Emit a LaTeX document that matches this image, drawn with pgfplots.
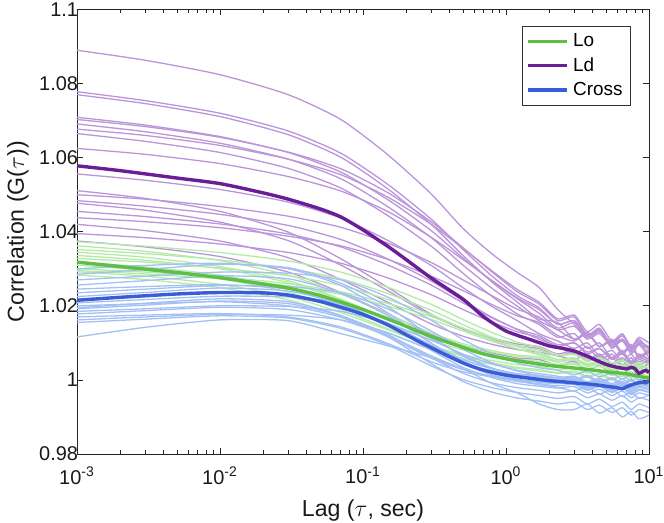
\documentclass[border=0pt]{standalone}
\usepackage{fontspec}
\setmainfont{Liberation Sans}
\usepackage{pgfplots}
\usepackage{pgfplotstable}
\pgfplotsset{compat=1.18}
\definecolor{ldthin}{RGB}{187,148,218}
\definecolor{lothin}{RGB}{180,234,168}
\definecolor{crthin}{RGB}{163,192,245}
\definecolor{ldthick}{RGB}{106,30,150}
\definecolor{lothick}{RGB}{92,192,68}
\definecolor{crthick}{RGB}{58,92,214}

\pgfplotstableread{
t p1 p2 p3 p4 p5 p6 p7 p8 p9 p10 p11 p12 p13 p14 p15 p16 p17 p18 p19
0.001 1.0890 1.0778 1.0770 1.0709 1.0703 1.0691 1.0677 1.0665 1.0625 1.0556 1.0511 1.0500 1.0484 1.0477 1.0455 1.0438 1.0420 1.0395 1.0375
0.003 1.0863 1.0754 1.0746 1.0688 1.0684 1.0670 1.0660 1.0644 1.0609 1.0539 1.0490 1.0488 1.0469 1.0458 1.0441 1.0427 1.0403 1.0384 1.0359
0.01 1.0824 1.0720 1.0711 1.0657 1.0655 1.0639 1.0633 1.0614 1.0584 1.0514 1.0455 1.0468 1.0447 1.0426 1.0421 1.0411 1.0375 1.0367 1.0333
0.03 1.0770 1.0672 1.0662 1.0614 1.0615 1.0596 1.0596 1.0571 1.0549 1.0480 1.0399 1.0442 1.0417 1.0376 1.0394 1.0388 1.0330 1.0344 1.0291
0.07 1.0703 1.0612 1.0601 1.0561 1.0570 1.0543 1.0554 1.0518 1.0510 1.0437 1.0327 1.0412 1.0379 1.0310 1.0359 1.0362 1.0271 1.0315 1.0236
0.15 1.0607 1.0527 1.0515 1.0486 1.0505 1.0467 1.0493 1.0443 1.0454 1.0376 1.0249 1.0369 1.0326 1.0240 1.0310 1.0325 1.0209 1.0275 1.0178
0.3 1.0502 1.0434 1.0420 1.0403 1.0427 1.0384 1.0420 1.0361 1.0385 1.0309 1.0177 1.0317 1.0267 1.0174 1.0256 1.0280 1.0151 1.0230 1.0123
0.5 1.0409 1.0352 1.0336 1.0329 1.0357 1.0310 1.0355 1.0288 1.0325 1.0249 1.0137 1.0270 1.0214 1.0138 1.0208 1.0241 1.0118 1.0190 1.0093
0.8 1.0340 1.0280 1.0264 1.0266 1.0291 1.0247 1.0294 1.0225 1.0268 1.0198 1.0110 1.0227 1.0169 1.0113 1.0167 1.0203 1.0096 1.0156 1.0073
1.2 1.0290 1.0227 1.0210 1.0219 1.0238 1.0199 1.0244 1.0178 1.0221 1.0160 1.0092 1.0191 1.0136 1.0097 1.0137 1.0173 1.0082 1.0130 1.0059
1.7 1.0250 1.0195 1.0165 1.0180 1.0205 1.0160 1.0210 1.0150 1.0190 1.0125 1.0085 1.0170 1.0110 1.0090 1.0120 1.0155 1.0075 1.0115 1.0055
2.3 1.0190 1.0150 1.0155 1.0140 1.0160 1.0135 1.0165 1.0115 1.0150 1.0105 1.0065 1.0135 1.0090 1.0070 1.0095 1.0120 1.0065 1.0090 1.0040
3 1.0150 1.0160 1.0110 1.0155 1.0170 1.0110 1.0175 1.0125 1.0160 1.0085 1.0075 1.0145 1.0070 1.0080 1.0100 1.0105 1.0055 1.0100 1.0050
3.7 1.0120 1.0120 1.0130 1.0115 1.0120 1.0125 1.0130 1.0085 1.0115 1.0100 1.0050 1.0110 1.0090 1.0055 1.0075 1.0125 1.0070 1.0070 1.0025
4.5 1.0135 1.0140 1.0090 1.0130 1.0135 1.0090 1.0150 1.0100 1.0135 1.0065 1.0065 1.0125 1.0055 1.0070 1.0085 1.0090 1.0045 1.0085 1.0040
5.5 1.0095 1.0095 1.0105 1.0100 1.0085 1.0105 1.0105 1.0060 1.0095 1.0080 1.0040 1.0090 1.0070 1.0045 1.0055 1.0110 1.0060 1.0060 1.0015
6.5 1.0110 1.0120 1.0070 1.0120 1.0110 1.0070 1.0125 1.0080 1.0110 1.0050 1.0055 1.0105 1.0040 1.0060 1.0070 1.0075 1.0035 1.0075 1.0035
7.5 1.0080 1.0085 1.0095 1.0090 1.0070 1.0090 1.0090 1.0045 1.0080 1.0070 1.0030 1.0075 1.0060 1.0040 1.0045 1.0095 1.0050 1.0050 1.0005
8.5 1.0100 1.0110 1.0060 1.0105 1.0095 1.0060 1.0115 1.0070 1.0100 1.0040 1.0050 1.0095 1.0030 1.0055 1.0060 1.0065 1.0030 1.0065 1.0030
10 1.0070 1.0080 1.0080 1.0085 1.0060 1.0075 1.0100 1.0055 1.0090 1.0055 1.0040 1.0085 1.0045 1.0045 1.0050 1.0080 1.0045 1.0055 1.0020
}\ldtab

\pgfplotstableread{
t g1 g2 g3 g4 g5 g6 g7 g8 g9 g10 g11 g12
0.001 1.0373 1.0362 1.0352 1.0345 1.0336 1.0328 1.0318 1.0310 1.0300 1.0292 1.0283 1.0295
0.003 1.0361 1.0347 1.0341 1.0331 1.0323 1.0318 1.0305 1.0296 1.0291 1.0280 1.0271 1.0286
0.01 1.0344 1.0322 1.0324 1.0306 1.0300 1.0302 1.0283 1.0273 1.0278 1.0258 1.0249 1.0273
0.03 1.0321 1.0283 1.0301 1.0268 1.0263 1.0281 1.0247 1.0237 1.0260 1.0225 1.0216 1.0254
0.07 1.0291 1.0232 1.0273 1.0218 1.0216 1.0255 1.0201 1.0189 1.0238 1.0182 1.0172 1.0231
0.15 1.0250 1.0177 1.0233 1.0164 1.0166 1.0217 1.0152 1.0138 1.0206 1.0135 1.0126 1.0199
0.3 1.0204 1.0127 1.0188 1.0115 1.0119 1.0176 1.0107 1.0090 1.0171 1.0092 1.0082 1.0163
0.5 1.0163 1.0098 1.0149 1.0087 1.0093 1.0139 1.0081 1.0064 1.0140 1.0068 1.0058 1.0132
0.8 1.0128 1.0079 1.0115 1.0068 1.0075 1.0108 1.0064 1.0046 1.0113 1.0052 1.0042 1.0104
1.2 1.0102 1.0067 1.0090 1.0056 1.0064 1.0084 1.0053 1.0034 1.0093 1.0041 1.0031 1.0084
1.7 1.0088 1.0062 1.0075 1.0050 1.0058 1.0068 1.0046 1.0028 1.0080 1.0036 1.0024 1.0070
2.3 1.0068 1.0048 1.0055 1.0042 1.0050 1.0050 1.0040 1.0020 1.0066 1.0028 1.0018 1.0055
3 1.0070 1.0055 1.0060 1.0046 1.0054 1.0055 1.0042 1.0024 1.0068 1.0032 1.0020 1.0058
3.7 1.0050 1.0038 1.0040 1.0030 1.0040 1.0036 1.0030 1.0010 1.0054 1.0018 1.0008 1.0044
4.5 1.0058 1.0048 1.0048 1.0038 1.0046 1.0044 1.0036 1.0018 1.0060 1.0026 1.0014 1.0050
5.5 1.0040 1.0032 1.0028 1.0024 1.0034 1.0026 1.0024 1.0004 1.0046 1.0012 1.0000 1.0034
6.5 1.0052 1.0044 1.0038 1.0034 1.0042 1.0034 1.0032 1.0014 1.0054 1.0022 1.0010 1.0042
7.5 1.0035 1.0028 1.0020 1.0018 1.0030 1.0018 1.0020 0.9998 1.0040 1.0006 0.9996 1.0028
8.5 1.0045 1.0040 1.0032 1.0030 1.0038 1.0028 1.0028 1.0010 1.0048 1.0018 1.0006 1.0036
10 1.0030 1.0030 1.0022 1.0020 1.0032 1.0016 1.0022 1.0002 1.0042 1.0010 0.9998 1.0030
}\lotab

\pgfplotstableread{
t b1 b2 b3 b4 b5 b6 b7 b8 b9 b10 b11 b12 b13 b14 b15 b16 b17 b18
0.001 1.0300 1.0285 1.0270 1.0256 1.0245 1.0235 1.0225 1.0218 1.0208 1.0200 1.0192 1.0185 1.0178 1.0170 1.0162 1.0155 1.0116 1.0195
0.003 1.0309 1.0298 1.0280 1.0268 1.0252 1.0245 1.0236 1.0228 1.0217 1.0206 1.0202 1.0192 1.0187 1.0175 1.0170 1.0164 1.0142 1.0207
0.01 1.0315 1.0312 1.0291 1.0281 1.0257 1.0255 1.0248 1.0238 1.0226 1.0211 1.0213 1.0200 1.0196 1.0179 1.0177 1.0173 1.0162 1.0219
0.03 1.0300 1.0303 1.0288 1.0273 1.0245 1.0252 1.0240 1.0231 1.0224 1.0200 1.0206 1.0198 1.0190 1.0170 1.0175 1.0167 1.0160 1.0211
0.07 1.0255 1.0261 1.0270 1.0234 1.0208 1.0235 1.0205 1.0201 1.0208 1.0169 1.0173 1.0185 1.0162 1.0143 1.0162 1.0139 1.0125 1.0174
0.15 1.0180 1.0197 1.0223 1.0173 1.0147 1.0191 1.0149 1.0153 1.0167 1.0116 1.0122 1.0152 1.0119 1.0098 1.0127 1.0094 1.0092 1.0116
0.3 1.0099 1.0117 1.0161 1.0099 1.0081 1.0132 1.0080 1.0094 1.0112 1.0059 1.0060 1.0107 1.0065 1.0049 1.0081 1.0038 1.0060 1.0044
0.5 1.0054 1.0064 1.0109 1.0049 1.0044 1.0083 1.0034 1.0055 1.0067 1.0028 1.0018 1.0070 1.0030 1.0022 1.0043 1.0001 1.0030 0.9996
0.8 1.0030 1.0031 1.0070 1.0019 1.0025 1.0046 1.0006 1.0031 1.0032 1.0011 0.9992 1.0043 1.0008 1.0008 1.0014 0.9979 0.9990 0.9967
1.2 1.0015 1.0014 1.0046 1.0002 1.0012 1.0024 0.9990 1.0017 1.0012 1.0001 0.9979 1.0026 0.9996 0.9999 0.9997 0.9966 0.9965 0.9951
1.7 1.0009 1.0005 1.0033 0.9994 1.0006 1.0012 0.9983 1.0012 1.0001 0.9996 0.9972 1.0017 0.9990 0.9994 0.9987 0.9958 0.9935 0.9943
2.3 1.0006 0.9999 1.0026 0.9990 1.0002 1.0005 0.9978 1.0006 0.9996 0.9992 0.9965 1.0010 0.9984 0.9990 0.9980 0.9950 0.9920 0.9935
3 1.0010 1.0002 1.0014 0.9992 1.0006 1.0006 0.9982 0.9998 0.9998 0.9995 0.9970 1.0002 0.9988 0.9993 0.9970 0.9955 0.9920 0.9940
3.7 0.9995 0.9985 1.0024 0.9975 0.9992 0.9990 0.9965 1.0008 0.9982 0.9980 0.9952 1.0012 0.9972 0.9978 0.9982 0.9935 0.9935 0.9920
4.5 1.0005 0.9996 1.0008 0.9986 1.0000 1.0000 0.9975 0.9992 0.9992 0.9990 0.9962 0.9996 0.9982 0.9988 0.9962 0.9948 0.9910 0.9932
5.5 0.9990 0.9980 1.0018 0.9968 0.9986 0.9984 0.9958 1.0002 0.9976 0.9975 0.9945 1.0006 0.9966 0.9972 0.9975 0.9928 0.9925 0.9912
6.5 1.0002 0.9992 1.0002 0.9980 0.9996 0.9994 0.9970 0.9986 0.9986 0.9986 0.9958 0.9990 0.9978 0.9984 0.9955 0.9940 0.9900 0.9925
7.5 0.9988 0.9975 1.0014 0.9962 0.9982 0.9978 0.9952 0.9998 0.9970 0.9970 0.9940 1.0002 0.9960 0.9968 0.9968 0.9920 0.9915 0.9905
8.5 0.9998 0.9988 1.0000 0.9975 0.9992 0.9990 0.9965 0.9984 0.9982 0.9982 0.9952 0.9988 0.9972 0.9980 0.9950 0.9935 0.9895 0.9920
10 0.9992 0.9980 1.0008 0.9968 0.9986 0.9984 0.9958 0.9992 0.9975 0.9976 0.9945 0.9996 0.9966 0.9974 0.9960 0.9925 0.9905 0.9912
}\crtab

\begin{document}
\begin{tikzpicture}
\begin{axis}[
  at={(0,0)}, anchor=south west,
  scale only axis, width=286bp, height=222.25bp,
  xmode=log, xmin=1e-3, xmax=10, ymin=0.98, ymax=1.1,
  xtick={1e-3,1e-2,1e-1,1,10},
  xticklabels={10\textsuperscript{-3},10\textsuperscript{-2},10\textsuperscript{-1},10\textsuperscript{0},10\textsuperscript{1}},
  minor xtick={2e-3,3e-3,4e-3,5e-3,6e-3,7e-3,8e-3,9e-3,2e-2,3e-2,4e-2,5e-2,6e-2,7e-2,8e-2,9e-2,0.2,0.3,0.4,0.5,0.6,0.7,0.8,0.9,2,3,4,5,6,7,8,9},
  ytick={0.98,1,1.02,1.04,1.06,1.08,1.1},
  yticklabels={0.98,1,1.02,1.04,1.06,1.08,1.1},
  tick align=inside, xtick pos=both, ytick pos=both,
  major tick length=3bp, minor tick length=1.8bp,
  every tick/.style={color=black!85, line width=0.4pt},
  axis line style={black!85, line width=0.45bp},
  tick label style={font=\fontsize{10}{12}\selectfont, text=black!90},
  xticklabel style={yshift=-3bp},
  yticklabel style={xshift=4bp},
  xlabel={Lag ($\tau$, sec)}, ylabel={Correlation (G($\tau$))},
  label style={font=\fontsize{11.6}{14}\selectfont, text=black!90},
  xlabel style={at={(axis description cs:0.5,0)}, anchor=center, yshift=-28.5bp},
  ylabel style={at={(axis description cs:-0.1031,0.5)}, anchor=center},
  legend style={at={(0.9685,0.963)}, anchor=north east, draw=black!80, line width=0.4pt,
    font=\fontsize{9.5}{11}\selectfont, inner xsep=2bp, inner ysep=1.5bp, cells={anchor=west}},
  legend cell align=left,
  legend image code/.code={\draw[#1] (0bp,0bp) -- (19.5bp,0bp);},
]
\pgfplotsinvokeforeach{1,...,19}{\addplot[ldthin, line width=0.65bp, smooth, tension=0.4, forget plot] table[x=t,y=p#1]{\ldtab};}
\pgfplotsinvokeforeach{1,...,12}{\addplot[lothin, line width=0.65bp, smooth, tension=0.4, forget plot] table[x=t,y=g#1]{\lotab};}
\pgfplotsinvokeforeach{1,...,18}{\addplot[crthin, line width=0.65bp, smooth, tension=0.4, forget plot] table[x=t,y=b#1]{\crtab};}

\addplot[lothick, line width=1.7bp, smooth, tension=0.4] coordinates {(0.001,1.0318) (0.002,1.0306) (0.005,1.0290) (0.01,1.0276) (0.02,1.0259) (0.03,1.0248) (0.05,1.0228) (0.1,1.0190) (0.2,1.0145) (0.3,1.0117) (0.5,1.0088) (0.7,1.0070) (1,1.0057) (1.5,1.0046) (2,1.0039) (3,1.0032) (4,1.0027) (5,1.0022) (6,1.0019) (7,1.0016) (8,1.0012) (9,1.0008) (10,1.0005)};
\addlegendentry{Lo}
\addplot[ldthick, line width=1.7bp, smooth, tension=0.4] coordinates {(0.001,1.0578) (0.002,1.0565) (0.005,1.0545) (0.01,1.0530) (0.02,1.0505) (0.03,1.0488) (0.05,1.0462) (0.07,1.0440) (0.1,1.0405) (0.15,1.0360) (0.2,1.0325) (0.3,1.0275) (0.5,1.0218) (0.7,1.0170) (1,1.0132) (1.5,1.0108) (2,1.0092) (2.5,1.0085) (3,1.0078) (3.5,1.0068) (4,1.0058) (5,1.0042) (6,1.0034) (7,1.0030) (7.5,1.0034) (8,1.0030) (8.5,1.0018) (9,1.0022) (9.5,1.0026) (10,1.0020)};
\addlegendentry{Ld}
\addplot[crthick, line width=1.7bp, smooth, tension=0.4] coordinates {(0.001,1.0215) (0.002,1.0223) (0.005,1.0232) (0.01,1.0236) (0.02,1.0235) (0.03,1.0229) (0.05,1.0212) (0.07,1.0196) (0.1,1.0177) (0.15,1.0148) (0.2,1.0122) (0.3,1.0087) (0.5,1.0046) (0.7,1.0026) (1,1.0013) (1.5,1.0004) (2,0.9998) (2.5,0.9995) (3,0.9992) (4,0.9988) (5,0.9983) (6,0.9979) (6.5,0.9976) (7,0.9982) (8,0.9990) (9,0.9994) (9.5,0.9992) (10,0.9998)};
\addlegendentry{Cross}
\end{axis}
\pgfresetboundingbox
\path[use as bounding box] (-38.5bp,-34.5bp) rectangle (293.5bp,227bp);
\end{tikzpicture}
\end{document}
